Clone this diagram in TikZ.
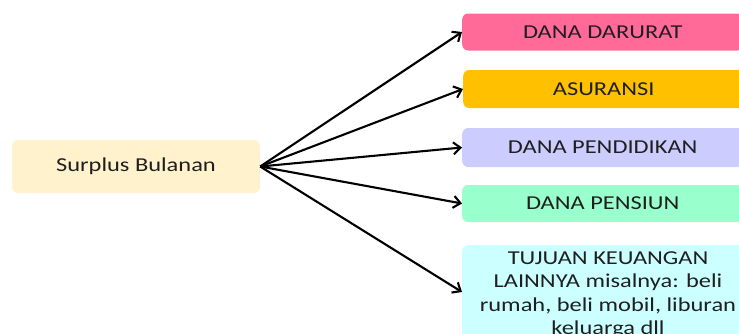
\documentclass[tikz,border=0pt]{standalone}
\usepackage{fontspec}
\setmainfont{Carlito}[FakeStretch=1.24]
\usetikzlibrary{arrows.meta}
\definecolor{cpink}{HTML}{FF6A98}
\definecolor{corange}{HTML}{FFC000}
\definecolor{clav}{HTML}{CCCCFF}
\definecolor{cmint}{HTML}{99FFCC}
\definecolor{ccyan}{HTML}{CCFFFF}
\definecolor{ccream}{HTML}{FFF2CC}
\begin{document}
\begin{tikzpicture}[x=1pt,y=-1pt,
  box/.style={rounded corners=6pt, inner sep=0pt, font=\fontsize{19.7}{23.5}\selectfont, text=black!88},
  conn/.style={line width=2.1pt, -{Straight Barb[length=7pt,width=12pt,line width=2.1pt]}}]
\useasboundingbox (0,0) rectangle (739,333);
\clip (0,0) rectangle (739,333);
\fill[white] (0,0) rectangle (739,333);
\node[box, fill=ccream, minimum width=248pt, minimum height=53pt] (src) at (136,166.5) {Surplus Bulanan};
\node[box, fill=cpink, minimum width=281pt, minimum height=37pt, anchor=west] (a) at (462,32) {DANA DARURAT};
\node[box, fill=corange, minimum width=281pt, minimum height=38pt, anchor=west] (b) at (463,89) {ASURANSI};
\node[box, fill=clav, minimum width=281pt, minimum height=39pt, anchor=west] (c) at (462,147.5) {DANA PENDIDIKAN};
\node[box, fill=cmint, minimum width=281pt, minimum height=37pt, anchor=west] (d) at (462,203.5) {DANA PENSIUN};
\node[box, fill=ccyan, minimum width=290pt, minimum height=100pt, anchor=north west] (e) at (462,245) {};
\node[font=\fontsize{19.7}{23.5}\selectfont, text=black!88, align=center, anchor=north, inner sep=0pt] (et) at (608,251.5) {TUJUAN KEUANGAN\\LAINNYA misalnya: beli\\rumah, beli mobil, liburan\\keluarga dll};
\coordinate (o) at (src.east);
\draw[conn] (o) -- (a.west);
\draw[conn] (o) -- (b.west);
\draw[conn] (o) -- (c.west);
\draw[conn] (o) -- (d.west);
\draw[conn] (o) -- (462,292);
\end{tikzpicture}
\end{document}
